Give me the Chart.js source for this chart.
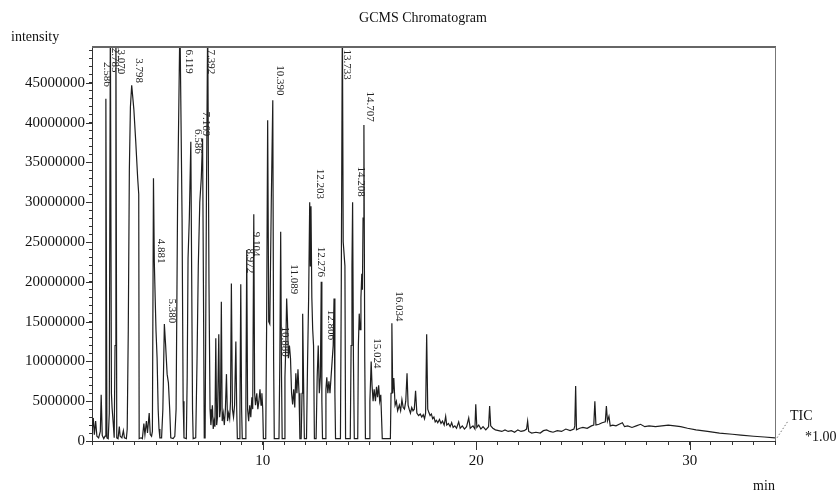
<!DOCTYPE html>
<html>
<head>
<meta charset="utf-8">
<script src="https://cdn.jsdelivr.net/npm/chart.js@4.4.1/dist/chart.umd.min.js"></script>
<style>
  body { margin: 0; background: #fff; }
  #chart { display: block; }
</style>
</head>
<body>
<canvas id="chart" width="836" height="492"></canvas>
<script>
// TIC trace: [retention time (min), intensity]
const ticTrace = [
  [2.00, 1.0e6], [2.06, 2.9e6], [2.11, 0.8e6], [2.17, 2.5e6], [2.23, 0.6e6], [2.31, 0.4e6], [2.39, 1.2e6], [2.43, 5.8e6],
  [2.48, 0.7e6], [2.55, 0.3e6], [2.61, 0.6e6], [2.65, 43e6], [2.70, 0.4e6], [2.76, 0.3e6], [2.81, 3.5e6], [2.86, 53e6],
  [2.91, 6e6], [2.94, 4.2e6], [2.99, 2.4e6], [3.04, 0.4e6], [3.08, 12e6], [3.12, 53e6], [3.16, 0.4e6], [3.22, 0.3e6],
  [3.28, 1.8e6], [3.32, 0.6e6], [3.40, 0.4e6], [3.47, 1.3e6], [3.52, 0.4e6], [3.61, 0.3e6],
  [3.65, 1.5e6], [3.70, 14e6], [3.75, 34e6], [3.80, 42e6], [3.86, 44.7e6], [3.96, 41.7e6], [4.05, 37.6e6], [4.14, 33e6],
  [4.19, 31e6], [4.21, 0.3e6],
  [4.30, 0.4e6], [4.36, 0.3e6], [4.43, 2.2e6], [4.48, 0.8e6], [4.55, 2.5e6], [4.60, 1.0e6], [4.68, 3.5e6], [4.73, 0.8e6],
  [4.79, 0.6e6], [4.83, 1.2e6], [4.88, 33e6], [4.92, 22.5e6], [4.96, 18e6], [5.00, 13.8e6], [5.05, 10.4e6], [5.10, 4e6],
  [5.14, 1.5e6], [5.18, 0.4e6],
  [5.26, 0.4e6], [5.32, 4e6], [5.39, 14.7e6], [5.45, 12e6], [5.52, 8.4e6], [5.58, 7.3e6], [5.64, 4e6], [5.69, 0.4e6],
  [5.80, 0.3e6], [5.88, 0.6e6], [5.94, 4e6], [6.01, 30e6], [6.12, 53e6], [6.22, 28e6], [6.27, 5e6], [6.31, 0.4e6],
  [6.42, 0.3e6], [6.46, 8e6], [6.50, 23e6], [6.56, 28e6], [6.63, 37.6e6], [6.67, 21e6], [6.71, 4e6], [6.74, 0.3e6],
  [6.86, 0.4e6], [6.92, 10e6], [6.98, 22e6], [7.05, 30e6], [7.12, 33e6], [7.18, 38e6], [7.22, 20e6], [7.26, 0.4e6],
  [7.30, 0.4e6], [7.36, 30e6], [7.42, 53e6], [7.48, 20e6], [7.53, 4e6], [7.57, 2.0e6],
  [7.60, 3.0e6], [7.64, 4.5e6], [7.68, 1.5e6], [7.72, 2.5e6], [7.76, 1.8e6], [7.80, 12.9e6], [7.84, 2.0e6], [7.88, 3.0e6],
  [7.94, 13.4e6], [7.98, 3.0e6], [8.02, 4.0e6], [8.06, 17.5e6], [8.10, 2.5e6], [8.15, 3.5e6], [8.20, 2.0e6], [8.25, 4.0e6],
  [8.30, 8.4e6], [8.35, 2.5e6], [8.40, 3.5e6], [8.45, 2.8e6], [8.49, 5e6], [8.53, 19.8e6], [8.58, 4.0e6], [8.63, 3.0e6],
  [8.68, 4.5e6], [8.74, 12.5e6], [8.78, 4.0e6], [8.81, 0.3e6], [8.90, 0.3e6], [8.93, 3e6], [8.97, 19.7e6], [9.01, 4e6],
  [9.04, 0.3e6], [9.17, 0.3e6], [9.21, 5e6], [9.25, 24e6], [9.29, 4e6], [9.34, 2.5e6], [9.39, 4.5e6], [9.44, 3e6],
  [9.49, 5.5e6], [9.53, 4e6], [9.58, 28.5e6], [9.62, 6e6], [9.66, 4.5e6], [9.72, 6e6], [9.77, 4e6], [9.82, 5e6],
  [9.87, 6.5e6], [9.92, 4.5e6], [9.96, 6e6], [10.00, 4e6], [10.03, 0.3e6],
  [10.14, 0.3e6], [10.18, 14e6], [10.23, 40.3e6], [10.28, 15e6], [10.33, 14.7e6], [10.40, 30e6], [10.47, 42.8e6],
  [10.51, 10e6], [10.54, 0.3e6],
  [10.76, 0.3e6], [10.80, 10e6], [10.84, 26.3e6], [10.88, 8e6], [10.91, 0.3e6],
  [11.00, 0.3e6], [11.04, 8e6], [11.08, 12e6], [11.12, 17.9e6], [11.16, 15e6], [11.20, 10.4e6], [11.25, 12e6],
  [11.30, 10.4e6], [11.35, 6e6], [11.40, 4.6e6], [11.45, 6.5e6], [11.50, 4.2e6], [11.55, 8.5e6], [11.60, 6e6],
  [11.65, 9e6], [11.70, 6e6], [11.74, 0.3e6],
  [11.80, 0.3e6], [11.84, 6e6], [11.87, 16e6], [11.91, 8e6], [11.95, 0.3e6],
  [12.05, 0.3e6], [12.10, 10e6], [12.15, 18e6], [12.20, 30e6], [12.23, 22e6], [12.26, 29.5e6], [12.30, 18e6],
  [12.34, 14e6], [12.38, 12e6], [12.42, 0.3e6],
  [12.50, 0.3e6], [12.55, 8e6], [12.60, 12e6], [12.65, 6e6], [12.70, 8e6], [12.74, 20e6], [12.77, 5e6], [12.80, 0.3e6],
  [12.92, 0.3e6], [12.96, 6.5e6], [13.00, 8e6], [13.05, 6e6], [13.10, 7.5e6], [13.15, 6e6], [13.20, 8e6], [13.25, 10e6],
  [13.30, 12e6], [13.34, 17.9e6], [13.38, 6e6], [13.41, 0.3e6],
  [13.64, 0.3e6], [13.68, 20e6], [13.73, 53e6], [13.77, 25e6], [13.85, 22e6], [13.88, 0.3e6],
  [14.10, 0.3e6], [14.14, 12e6], [14.18, 22e6], [14.21, 30e6], [14.25, 10e6], [14.29, 0.3e6],
  [14.45, 0.3e6], [14.48, 12e6], [14.52, 16e6], [14.56, 14e6], [14.60, 18e6], [14.64, 21e6], [14.67, 19e6],
  [14.70, 28e6], [14.74, 39.7e6], [14.78, 10e6], [14.81, 0.3e6],
  [14.98, 0.3e6], [15.02, 5e6], [15.08, 10e6], [15.12, 7e6], [15.17, 5e6], [15.22, 6.5e6], [15.28, 5e6], [15.33, 6.8e6],
  [15.38, 5.5e6], [15.43, 7e6], [15.48, 5e6], [15.53, 5.8e6], [15.60, 0.3e6],
  [15.98, 0.3e6], [16.01, 6e6], [16.05, 14.8e6], [16.09, 6e6], [16.14, 7.9e6], [16.20, 4.5e6], [16.26, 5e6],
  [16.32, 3.8e6], [16.40, 4.5e6], [16.46, 3.8e6], [16.52, 5.2e6], [16.58, 4.2e6], [16.64, 4.0e6], [16.70, 5e6],
  [16.76, 8.5e6], [16.81, 4.5e6], [16.86, 4e6], [16.92, 3.5e6], [16.98, 4.2e6], [17.04, 3.8e6], [17.10, 4e6],
  [17.16, 6.3e6], [17.22, 3.5e6], [17.30, 3.2e6], [17.38, 3.4e6], [17.45, 3.0e6], [17.52, 3.3e6], [17.58, 2.8e6],
  [17.63, 3.5e6], [17.68, 13.4e6], [17.73, 4.0e6], [17.78, 3.6e6], [17.84, 3.2e6], [17.90, 3.4e6], [17.96, 2.8e6],
  [18.02, 3.0e6], [18.08, 2.4e6], [18.14, 2.6e6], [18.20, 2.3e6], [18.28, 2.7e6], [18.35, 2.2e6], [18.42, 2.5e6],
  [18.50, 2.0e6], [18.57, 3.1e6], [18.62, 2.0e6], [18.70, 2.2e6], [18.78, 1.8e6], [18.85, 2.3e6], [18.92, 1.7e6],
  [19.00, 1.9e6], [19.08, 1.6e6], [19.18, 2.4e6], [19.25, 1.6e6], [19.35, 1.9e6], [19.45, 1.5e6], [19.55, 1.8e6],
  [19.65, 2.9e6], [19.72, 1.6e6], [19.85, 1.9e6], [19.94, 1.5e6], [19.98, 4.6e6], [20.03, 1.7e6], [20.12, 2.0e6],
  [20.22, 1.5e6], [20.32, 1.8e6], [20.45, 1.4e6], [20.58, 1.8e6], [20.63, 4.4e6], [20.68, 1.9e6], [20.78, 1.6e6],
  [20.90, 1.4e6], [21.05, 1.3e6], [21.20, 1.2e6], [21.35, 1.4e6], [21.50, 1.2e6], [21.65, 1.3e6], [21.80, 1.1e6],
  [21.95, 1.4e6], [22.10, 1.2e6], [22.25, 1.3e6], [22.36, 1.5e6], [22.41, 2.5e6], [22.46, 1.2e6], [22.60, 1.0e6],
  [22.80, 1.1e6], [23.00, 1.0e6], [23.15, 1.3e6], [23.30, 1.4e6], [23.45, 1.2e6], [23.60, 1.1e6], [23.80, 1.3e6],
  [24.00, 1.2e6], [24.20, 1.5e6], [24.40, 1.3e6], [24.58, 1.5e6], [24.62, 1.9e6], [24.66, 6.9e6], [24.70, 1.4e6],
  [24.85, 1.6e6], [25.00, 1.7e6], [25.20, 1.6e6], [25.40, 1.9e6], [25.51, 2.0e6], [25.56, 5.0e6], [25.61, 2.0e6],
  [25.75, 2.1e6], [25.90, 2.3e6], [26.05, 2.4e6], [26.10, 4.4e6], [26.15, 2.5e6], [26.22, 3.1e6], [26.28, 1.9e6],
  [26.40, 2.0e6], [26.55, 1.9e6], [26.70, 2.1e6], [26.85, 2.3e6], [26.95, 1.8e6], [27.10, 1.9e6], [27.30, 1.7e6],
  [27.50, 1.9e6], [27.70, 2.1e6], [27.90, 1.8e6], [28.10, 1.9e6], [28.40, 1.8e6], [28.70, 1.9e6], [29.00, 2.0e6],
  [29.30, 1.9e6], [29.58, 1.8e6], [29.90, 1.6e6], [30.30, 1.4e6], [30.84, 1.2e6], [31.40, 1.0e6], [32.00, 0.85e6],
  [32.40, 0.75e6], [33.00, 0.6e6], [33.50, 0.5e6], [34.00, 0.4e6]
];

// peak retention-time labels and where their text starts (time, intensity)
const peakLabels = ["2.586", "2.785", "3.070", "3.798", "4.881", "5.380", "6.119", "6.586", "7.169", "7.392",
  "8.972", "9.104", "10.390", "10.880", "11.089", "12.203", "12.276", "12.806", "13.733", "14.208",
  "14.707", "15.024", "16.034"];
const peakLabelTime = [2.70, 3.05, 3.36, 4.19, 5.22, 5.74, 6.53, 6.96, 7.33, 7.56,
  9.39, 9.67, 10.80, 11.03, 11.45, 12.67, 12.72, 13.18, 13.93, 14.59,
  15.01, 15.34, 16.37];
const peakLabelIntensity = [47.6e6, 49.4e6, 49.2e6, 48.1e6, 25.4e6, 17.9e6, 49.2e6, 39.2e6, 41.4e6, 49.2e6,
  24.2e6, 26.3e6, 47.2e6, 14.4e6, 22.2e6, 34.2e6, 24.4e6, 16.5e6, 49.2e6, 34.5e6,
  43.9e6, 12.9e6, 18.8e6];

const xMin = 2, xMax = 34;
const yMax = 49.5e6;
const yMinorStep = 1e6, yLabelStep = 5e6;
const xMinorStep = 1, xLabelStep = 10;

const serif = '"Liberation Serif", "Times New Roman", serif';
const isMultiple = (v, step) => Math.abs(v / step - Math.round(v / step)) < 1e-6;

// one tick per minor step, labels only on the major ones
function stepTicks(min, max, step) {
  const out = [];
  for (let i = Math.ceil(min / step); i * step <= max; i++) out.push({ value: i * step });
  return out;
}

const decor = {
  id: 'decor',
  afterDraw(chart) {
    const { ctx, chartArea: a, scales } = chart;
    const x = scales.x, y = scales.y;
    ctx.save();

    // frame: thick top, thin right
    ctx.strokeStyle = '#666';
    ctx.lineWidth = 2;
    ctx.beginPath();
    ctx.moveTo(a.left, a.top);
    ctx.lineTo(a.right + 1, a.top);
    ctx.stroke();
    ctx.lineWidth = 1;
    ctx.strokeStyle = '#777';
    ctx.beginPath();
    ctx.moveTo(a.right + 0.5, a.top);
    ctx.lineTo(a.right + 0.5, a.bottom);
    ctx.stroke();

    // longer marks on labelled ticks
    ctx.strokeStyle = '#333';
    ctx.beginPath();
    for (let v = 0; v <= yMax; v += yLabelStep) {
      const py = Math.round(y.getPixelForValue(v)) + 0.5;
      ctx.moveTo(a.left - 6, py);
      ctx.lineTo(a.left, py);
    }
    for (let v = xLabelStep; v < xMax; v += xLabelStep) {
      const px = Math.round(x.getPixelForValue(v)) + 0.5;
      ctx.moveTo(px, a.bottom);
      ctx.lineTo(px, a.bottom + 9);
    }
    ctx.stroke();

    // peak labels, rotated
    ctx.fillStyle = '#222';
    ctx.font = '11px ' + serif;
    ctx.textAlign = 'left';
    ctx.textBaseline = 'middle';
    peakLabels.forEach((txt, i) => {
      ctx.save();
      ctx.translate(x.getPixelForValue(peakLabelTime[i]), y.getPixelForValue(peakLabelIntensity[i]));
      ctx.rotate(Math.PI / 2);
      ctx.fillText(txt, 0, 0);
      ctx.restore();
    });

    // titles and captions
    ctx.fillStyle = '#111';
    ctx.font = '14px ' + serif;
    ctx.textAlign = 'center';
    ctx.fillText('GCMS Chromatogram', 423, 18);
    ctx.textAlign = 'left';
    ctx.fillText('intensity', 11, 37);
    ctx.textAlign = 'center';
    ctx.fillText('min', 764, 486);
    ctx.textAlign = 'left';
    ctx.fillText('TIC', a.right + 15, 416);
    ctx.fillText('*1.00', a.right + 30, 437);

    // dotted leader from trace end to TIC
    const last = ticTrace[ticTrace.length - 1];
    ctx.strokeStyle = '#777';
    ctx.setLineDash([1.5, 2]);
    ctx.beginPath();
    ctx.moveTo(x.getPixelForValue(last[0]) + 2, y.getPixelForValue(last[1]));
    ctx.lineTo(a.right + 13, 421);
    ctx.stroke();

    ctx.restore();
  }
};

new Chart(document.getElementById('chart'), {
  type: 'line',
  data: {
    datasets: [{
      label: 'TIC',
      data: ticTrace.map(([t, v]) => ({ x: t, y: v })),
      borderColor: '#1e1e1e',
      borderWidth: 1.2,
      pointRadius: 0,
      tension: 0,
      fill: false
    }]
  },
  options: {
    responsive: false,
    animation: false,
    devicePixelRatio: 1,
    layout: { padding: { top: 47, right: 61, left: 0, bottom: 0 } },
    plugins: {
      legend: { display: false },
      tooltip: { enabled: false },
      title: { display: false }
    },
    scales: {
      x: {
        type: 'linear',
        min: xMin,
        max: xMax,
        afterFit: (s) => { s.height = 51; },
        afterBuildTicks: (s) => { s.ticks = stepTicks(xMin, xMax, xMinorStep); },
        grid: { drawOnChartArea: false, tickLength: 4, color: '#333' },
        border: { display: true, color: '#333', width: 1 },
        ticks: {
          autoSkip: false,
          maxRotation: 0,
          padding: 7,
          color: '#111',
          font: { family: serif, size: 15 },
          callback: (v) => (isMultiple(v, xLabelStep) ? String(Math.round(v)) : '')
        }
      },
      y: {
        min: 0,
        max: yMax,
        afterFit: (s) => { s.width = 92; },
        afterBuildTicks: (s) => { s.ticks = stepTicks(0, yMax, yMinorStep); },
        grid: { drawOnChartArea: false, tickLength: 3, color: '#333' },
        border: { display: true, color: '#333', width: 1 },
        ticks: {
          autoSkip: false,
          padding: 4,
          color: '#111',
          font: { family: serif, size: 15 },
          callback: (v) => (isMultiple(v, yLabelStep) ? String(Math.round(v)) : '')
        }
      }
    }
  },
  plugins: [decor]
});
</script>
</body>
</html>
